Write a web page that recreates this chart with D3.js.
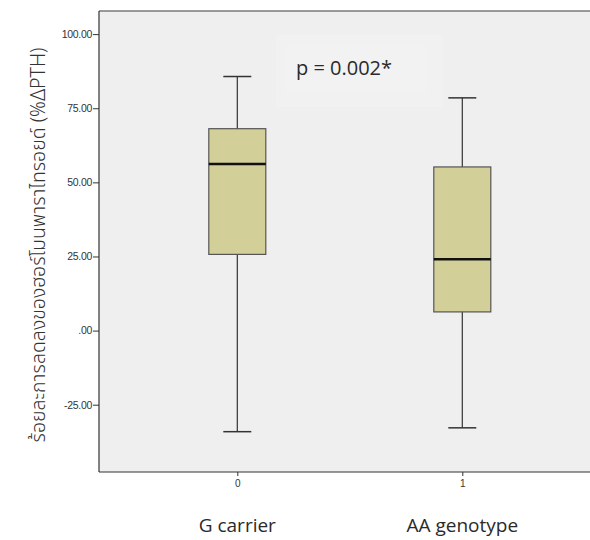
<!DOCTYPE html>
<html>
<head>
<meta charset="utf-8">
<script src="https://cdn.jsdelivr.net/npm/d3@7"></script>
<style>
  html, body { margin: 0; padding: 0; background: #fff; }
  svg { display: block; }
</style>
</head>
<body>
<div class="js-chart"></div>
<script>
// values
let categories = ['G carrier', 'AA genotype'];
let groupCodes = [0, 1];
let whiskerHigh = [85.7, 78.5];
let upperQuartile = [68.1, 55.2];
let medians = [56.2, 24.1];
let lowerQuartile = [25.7, 6.3];
let whiskerLow = [-34.1, -32.8];
let yTicks = [-25, 0, 25, 50, 75, 100];
let yTickLabels = ['-25.00', '.00', '25.00', '50.00', '75.00', '100.00'];
let pLabel = 'p = 0.002*';
let yTitle = 'ร้อยละการลดลงของฮอร์โมนพาราไทรอยด์ (%ΔPTH)';

let w = 590;
let h = 540;
let plot = {left: 99, top: 11, right: 610, bottom: 472};

let svg = d3.select('.js-chart').append('svg').attr('width', w).attr('height', h);

let y = d3.scaleLinear().domain([-47.7, 107.8]).range([plot.bottom, plot.top]);
let x = d3.scaleLinear().domain([0, 1]).range([237.3, 462.3]);

let boxWidth = 57;
let capWidth = 28;

// plot background + frame
svg.append('rect')
   .attr('x', plot.left).attr('y', plot.top)
   .attr('width', plot.right - plot.left).attr('height', plot.bottom - plot.top)
   .style('fill', '#efefef');

svg.append('line')
   .attr('x1', plot.left).attr('x2', w).attr('y1', plot.top).attr('y2', plot.top)
   .style('stroke', '#7a7a7a').style('stroke-width', 1.6);

// faint box behind the p value
svg.append('rect')
   .attr('x', 276).attr('y', 35).attr('width', 167).attr('height', 72)
   .style('fill', '#f1f1f1');
svg.append('rect')
   .attr('x', 285).attr('y', 45).attr('width', 142).attr('height', 48)
   .style('fill', '#f2f2f2');

svg.append('text')
   .attr('x', 296).attr('y', 75)
   .style('font-family', '"Open Sans", "Noto Sans", sans-serif')
   .style('font-size', '20px')
   .style('fill', '#2a2a2a')
   .text(pLabel);

// axes
let yAxis = d3.axisLeft(y).tickValues(yTicks).tickSize(6).tickPadding(1)
              .tickFormat((d, i) => yTickLabels[i]);
let gy = svg.append('g').attr('transform', `translate(${plot.left},0)`).call(yAxis);
gy.select('.domain').remove();
gy.selectAll('.tick line').style('stroke', '#333');
gy.selectAll('.tick text')
  .style('font-family', '"Liberation Sans", Arial, sans-serif')
  .style('font-size', '10.5px').style('fill', '#333').style('letter-spacing', '-0.3px');

let xAxis = d3.axisBottom(x).tickValues(groupCodes).tickSize(4).tickPadding(4)
              .tickFormat(d => d);
let gx = svg.append('g').attr('transform', `translate(0,${plot.bottom})`).call(xAxis);
gx.select('.domain').remove();
gx.selectAll('.tick line').style('stroke', '#333');
gx.selectAll('.tick text')
  .style('font-family', '"Liberation Sans", Arial, sans-serif')
  .style('font-size', '10px').style('fill', '#333');

svg.append('line')
   .attr('x1', plot.left).attr('x2', plot.left).attr('y1', plot.top).attr('y2', plot.bottom)
   .style('stroke', '#333').style('stroke-width', 1.2);
svg.append('line')
   .attr('x1', plot.left).attr('x2', w).attr('y1', plot.bottom).attr('y2', plot.bottom)
   .style('stroke', '#333').style('stroke-width', 1.2);

// boxplots
let boxes = svg.append('g').selectAll('g').data(groupCodes).enter().append('g');

boxes.append('line')
     .attr('x1', d => x(d)).attr('x2', d => x(d))
     .attr('y1', (d, i) => y(whiskerHigh[i])).attr('y2', (d, i) => y(whiskerLow[i]))
     .style('stroke', '#333').style('stroke-width', 1.2);

boxes.append('line')
     .attr('x1', d => x(d) - capWidth / 2).attr('x2', d => x(d) + capWidth / 2)
     .attr('y1', (d, i) => y(whiskerHigh[i])).attr('y2', (d, i) => y(whiskerHigh[i]))
     .style('stroke', '#333').style('stroke-width', 1.5);

boxes.append('line')
     .attr('x1', d => x(d) - capWidth / 2).attr('x2', d => x(d) + capWidth / 2)
     .attr('y1', (d, i) => y(whiskerLow[i])).attr('y2', (d, i) => y(whiskerLow[i]))
     .style('stroke', '#333').style('stroke-width', 1.5);

boxes.append('rect')
     .attr('x', d => x(d) - boxWidth / 2)
     .attr('y', (d, i) => y(upperQuartile[i]))
     .attr('width', boxWidth)
     .attr('height', (d, i) => y(lowerQuartile[i]) - y(upperQuartile[i]))
     .style('fill', '#d3cf98').style('stroke', '#555').style('stroke-width', 1.2);

boxes.append('line')
     .attr('x1', d => x(d) - boxWidth / 2).attr('x2', d => x(d) + boxWidth / 2)
     .attr('y1', (d, i) => y(medians[i])).attr('y2', (d, i) => y(medians[i]))
     .style('stroke', '#111').style('stroke-width', 2.5);

// category names under the axis
svg.append('g').selectAll('text').data(categories).enter().append('text')
   .attr('x', (d, i) => x(groupCodes[i]))
   .attr('y', 532)
   .attr('text-anchor', 'middle')
   .style('font-family', '"Open Sans", "Noto Sans", sans-serif')
   .style('font-size', '19px')
   .style('fill', '#2a2a2a')
   .text(d => d);

// y title
svg.append('text')
   .attr('transform', 'translate(45,245) rotate(-90)')
   .attr('text-anchor', 'middle')
   .style('font-family', '"Noto Sans Thai", "Noto Sans", "DejaVu Sans", sans-serif')
   .style('font-size', '19.5px')
   .style('font-weight', 300)
   .style('fill', '#333')
   .text(yTitle);
</script>
</body>
</html>
